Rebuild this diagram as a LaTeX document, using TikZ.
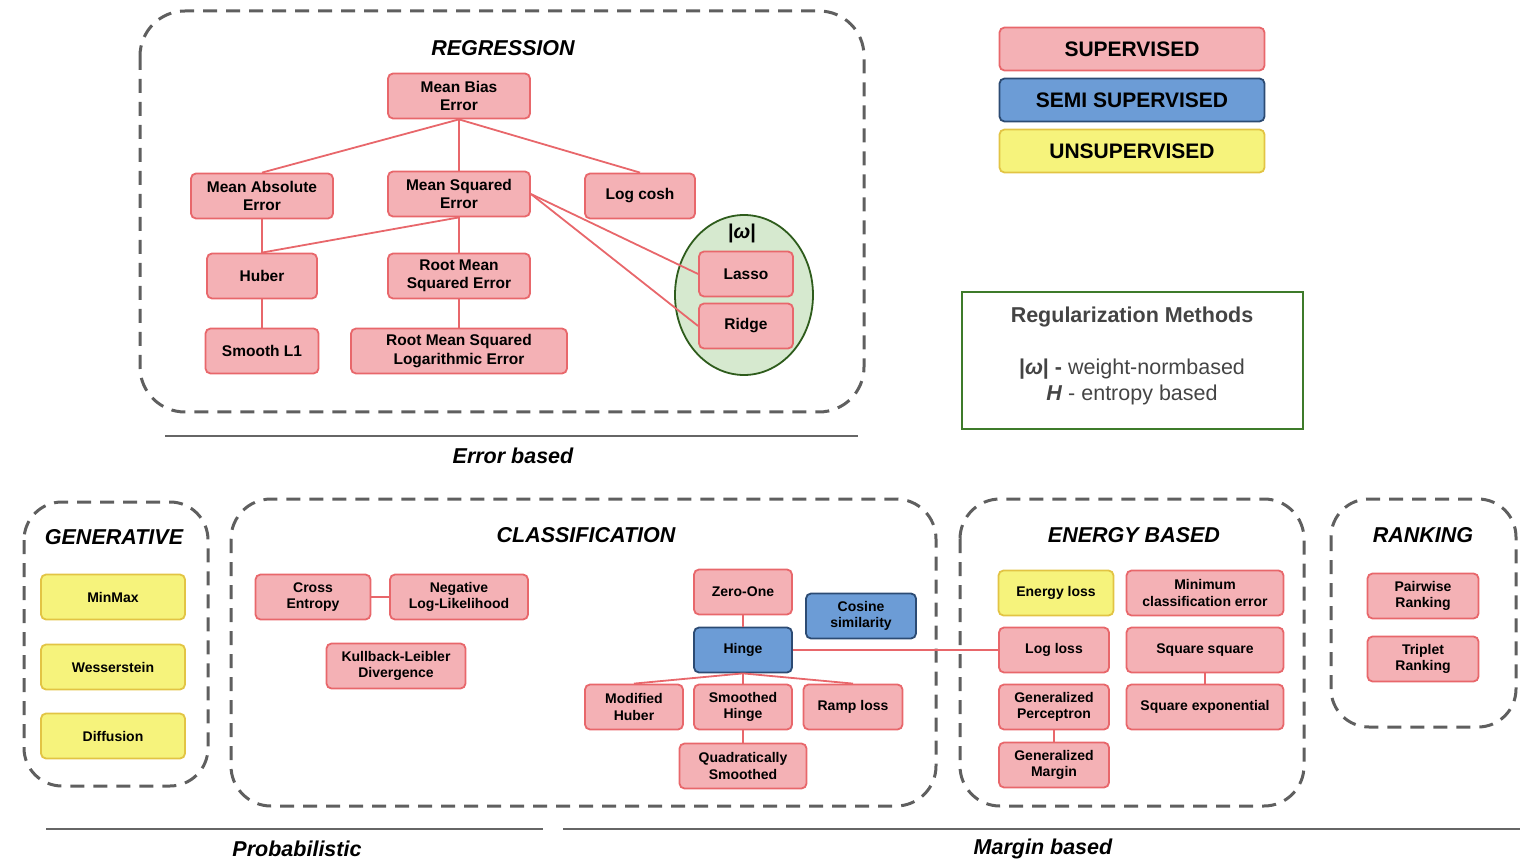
\documentclass[tikz,border=0pt]{standalone}
\usepackage{fontspec}
\setmainfont{Liberation Sans}
\usetikzlibrary{shapes.geometric}

\definecolor{supfill}{HTML}{F4B1B5}
\definecolor{supline}{HTML}{E8676B}
\definecolor{semifill}{HTML}{6C9CD6}
\definecolor{semiline}{HTML}{2C4B73}
\definecolor{unsupfill}{HTML}{F6F37C}
\definecolor{unsupline}{HTML}{E2C444}
\definecolor{ellfill}{HTML}{D6E9CF}
\definecolor{ellline}{HTML}{2E5C1C}
\definecolor{reggreen}{HTML}{3E7B2A}
\definecolor{groupgray}{HTML}{5F5F5F}
\definecolor{regtext}{HTML}{444444}

\begin{document}
\begin{tikzpicture}[x=1pt, y=-1pt,
    every node/.style={font=\bfseries\fontsize{15.5}{18.5}\selectfont, align=center, inner sep=0pt},
    sup/.style={draw=supline, fill=supfill, line width=1.8pt, rounded corners=5pt, minimum height=45pt},
    semi/.style={draw=semiline, fill=semifill, line width=1.8pt, rounded corners=5pt, minimum height=45pt},
    unsup/.style={draw=unsupline, fill=unsupfill, line width=1.8pt, rounded corners=5pt, minimum height=45pt},
    botnode/.style={font=\bfseries\fontsize{14}{16.5}\selectfont},
    legendbox/.style={minimum width=265pt, minimum height=43pt, font=\bfseries\fontsize{21}{24}\selectfont},
    group/.style={draw=groupgray, line width=3pt, dash pattern=on 14pt off 9pt, rounded corners=45pt},
    grouptitle/.style={font=\bfseries\itshape\fontsize{21.5}{24}\selectfont},
    regtxt/.style={text=regtext, font=\fontsize{21.5}{26}\selectfont},
    tie/.style={draw=supline, line width=1.8pt},
    axisline/.style={draw=black!60, line width=2pt}]
    \useasboundingbox (0,0) rectangle (1540,866);

    % regression group
    \draw[group] (140,11) rectangle (864,412);
    \node[grouptitle] (regT) at (503,48) {REGRESSION};

    \node[ellipse, draw=ellline, fill=ellfill, line width=1.8pt, minimum width=138pt, minimum height=160pt] (wgroup) at (744,295) {};
    \node[font=\bfseries\fontsize{20}{24}\selectfont] (wlabel) at (742,233) {|\textit{ω}|};

    \node[sup, minimum width=142pt] (mbe) at (459,96) {Mean Bias\\Error};
    \node[sup, minimum width=142pt] (mae) at (262,196) {Mean Absolute\\Error};
    \node[sup, minimum width=142pt] (mse) at (459,194) {Mean Squared\\Error};
    \node[sup, minimum width=110pt] (logcosh) at (640,196) {Log cosh};
    \node[sup, minimum width=110pt] (huber) at (262,276) {Huber};
    \node[sup, minimum width=142pt] (rmse) at (459,276) {Root Mean\\Squared Error};
    \node[sup, minimum width=113pt] (smoothl) at (262,351) {Smooth L1};
    \node[sup, minimum width=216pt] (rmsle) at (459,351) {Root Mean Squared\\Logarithmic Error};
    \node[sup, minimum width=94pt] (lasso) at (746,274) {Lasso};
    \node[sup, minimum width=94pt] (ridge) at (746,326) {Ridge};

    \draw[tie] (mbe.south) -- (mae.north);
    \draw[tie] (mbe.south) -- (mse.north);
    \draw[tie] (mbe.south) -- (logcosh.north);
    \draw[tie] (mae) -- (huber);
    \draw[tie] (mse.south) -- (huber.north);
    \draw[tie] (mse) -- (rmse);
    \draw[tie] (huber) -- (smoothl);
    \draw[tie] (rmse) -- (rmsle);
    \draw[tie] (mse.east) -- (lasso.west);
    \draw[tie] (mse.east) -- (ridge.west);

    \draw[axisline] (165,436) -- (858,436);
    \node[grouptitle] (errT) at (513,456) {Error based};

    % legend
    \node[sup, legendbox] (lsup) at (1132,49) {SUPERVISED};
    \node[semi, legendbox] (lsemi) at (1132,100) {SEMI SUPERVISED};
    \node[unsup, legendbox] (lunsup) at (1132,151) {UNSUPERVISED};

    \node[draw=reggreen, line width=2.5pt, minimum width=341pt, minimum height=137pt] (regbox) at (1132.5,360.5) {};
    \node[regtxt, font=\bfseries\fontsize{21.5}{26}\selectfont] (regT2) at (1132,317) {Regularization Methods};
    \node[regtxt] (regw) at (1132,369) {\textbf{|\textit{ω}| -} weight-normbased};
    \node[regtxt] (regh) at (1132,395) {\textbf{\textit{H}} - entropy based};

    % generative group
    \draw[group, rounded corners=38pt] (24,502) rectangle (208,786);
    \node[grouptitle] (genT) at (114,537) {GENERATIVE};
    \node[unsup, botnode, minimum width=144pt] (minmax) at (113,597) {MinMax};
    \node[unsup, botnode, minimum width=144pt] (wess) at (113,667) {Wesserstein};
    \node[unsup, botnode, minimum width=144pt] (diff) at (113,736) {Diffusion};

    % classification group
    \draw[group, rounded corners=40pt] (231,499) rectangle (936,806);
    \node[grouptitle] (clsT) at (586,535) {CLASSIFICATION};
    \node[sup, botnode, minimum width=115pt] (ce) at (313,597) {Cross\\Entropy};
    \node[sup, botnode, minimum width=138pt] (nll) at (459,597) {Negative\\Log-Likelihood};
    \node[sup, botnode, minimum width=139pt] (kl) at (396,666) {Kullback-Leibler\\Divergence};
    \node[sup, botnode, minimum width=98pt] (zeroone) at (743,592) {Zero-One};
    \node[semi, botnode, minimum width=110pt] (cosine) at (861,616) {Cosine\\similarity};
    \node[semi, botnode, minimum width=98pt] (hinge) at (743,650) {Hinge};
    \node[sup, botnode, minimum width=98pt] (mhuber) at (634,707) {Modified\\Huber};
    \node[sup, botnode, minimum width=98pt] (shinge) at (743,707) {Smoothed\\Hinge};
    \node[sup, botnode, minimum width=99pt] (ramp) at (853,707) {Ramp loss};
    \node[sup, botnode, minimum width=127pt] (qsmooth) at (743,766) {Quadratically\\Smoothed};

    \draw[tie] (ce) -- (nll);
    \draw[tie] (zeroone) -- (hinge);
    \draw[tie] (hinge.south) -- (mhuber.north);
    \draw[tie] (hinge) -- (shinge);
    \draw[tie] (hinge.south) -- (ramp.north);
    \draw[tie] (shinge) -- (qsmooth);

    % energy based group
    \draw[group, rounded corners=40pt] (960,499) rectangle (1304,806);
    \node[grouptitle] (enT) at (1134,535) {ENERGY BASED};
    \node[unsup, botnode, minimum width=115pt] (energy) at (1056,593) {Energy loss};
    \node[sup, botnode, minimum width=157pt] (mce) at (1205,593) {Minimum\\classification error};
    \node[sup, botnode, minimum width=110pt] (logloss) at (1054,650) {Log loss};
    \node[sup, botnode, minimum width=157pt] (sqsq) at (1205,650) {Square square};
    \node[sup, botnode, minimum width=110pt] (gperc) at (1054,707) {Generalized\\Perceptron};
    \node[sup, botnode, minimum width=157pt] (sqexp) at (1205,707) {Square exponential};
    \node[sup, botnode, minimum width=110pt] (gmarg) at (1054,765) {Generalized\\Margin};

    \draw[tie] (hinge) -- (logloss);
    \draw[tie] (sqsq) -- (sqexp);
    \draw[tie] (gperc) -- (gmarg);

    % ranking group
    \draw[group, rounded corners=38pt] (1331,499) rectangle (1516,727);
    \node[grouptitle] (rankT) at (1423,535) {RANKING};
    \node[sup, botnode, minimum width=111pt] (pair) at (1423,596) {Pairwise\\Ranking};
    \node[sup, botnode, minimum width=111pt] (trip) at (1423,659) {Triplet\\Ranking};

    % bottom axes
    \draw[axisline] (46,829) -- (543,829);
    \draw[axisline] (563,829) -- (1520,829);
    \node[grouptitle] (probT) at (297,849) {Probabilistic};
    \node[grouptitle] (margT) at (1043,849) {Margin based};
\end{tikzpicture}
\end{document}
